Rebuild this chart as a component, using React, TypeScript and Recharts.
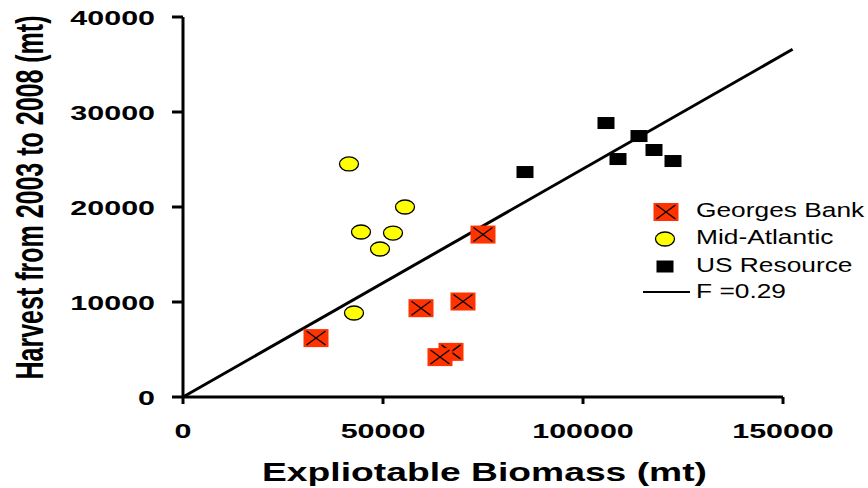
import React from 'react';
import {
  ScatterChart,
  Scatter,
  XAxis,
  YAxis,
  ReferenceLine,
  Legend,
  Label,
} from 'recharts';

// ---- data ----
const georgesX = [33250, 59500, 70000, 75000, 67000, 64250];
const georgesY = [6200, 9350, 10050, 17100, 4750, 4200];

const midAtlX = [41500, 55500, 44500, 52500, 49250, 42750];
const midAtlY = [24530, 20000, 17370, 17260, 15580, 8840];

const usX = [105750, 85500, 114000, 108750, 117750, 122500];
const usY = [28840, 23680, 27470, 25050, 26000, 24840];

const fitLineX = [0, 152400];
const fitLineY = [0, 36600];

const xTicks = [0, 50000, 100000, 150000];
const yTicks = [0, 10000, 20000, 30000, 40000];

const seriesNames = ['Georges Bank', 'Mid-Atlantic', 'US Resource', 'F =0.29'];

const zip = (xs: number[], ys: number[]) => xs.map((x, i) => ({ x, y: ys[i] }));
const georges = zip(georgesX, georgesY);
const midAtl = zip(midAtlX, midAtlY);
const us = zip(usX, usY);
const fitSegment = zip(fitLineX, fitLineY);

const FONT = '"Liberation Sans", Arial, Helvetica, sans-serif';
const SX = 1.45;

// ---- markers ----
const RedMarker = ({ cx, cy }: { cx: number; cy: number }) => (
  <g>
    <rect x={cx - 12.5} y={cy - 9} width={25} height={18} fill="#FF3300" />
    <line x1={cx - 9.5} y1={cy - 7} x2={cx + 9.5} y2={cy + 7} stroke="#000" strokeWidth={1.3} />
    <line x1={cx - 9.5} y1={cy + 7} x2={cx + 9.5} y2={cy - 7} stroke="#000" strokeWidth={1.3} />
  </g>
);

const YellowMarker = ({ cx, cy }: { cx: number; cy: number }) => (
  <ellipse cx={cx} cy={cy} rx={9.5} ry={7} fill="#FFFF00" stroke="#000" strokeWidth={1.3} />
);

const BlackMarker = ({ cx, cy }: { cx: number; cy: number }) => (
  <rect x={cx - 8.5} y={cy - 6} width={17} height={12} fill="#000" />
);

// ---- ticks ----
const YTick = (props: any) => {
  const { y, payload } = props;
  return (
    <text
      transform={`translate(155, ${y + 7.5}) scale(${SX}, 1)`}
      textAnchor="end"
      fontFamily={FONT}
      fontWeight="bold"
      fontSize={21}
      fill="#000"
    >
      {payload.value}
    </text>
  );
};

const XTick = (props: any) => {
  const { x, payload } = props;
  return (
    <text
      transform={`translate(${x}, 438) scale(${SX}, 1)`}
      textAnchor="middle"
      fontFamily={FONT}
      fontWeight="bold"
      fontSize={21}
      fill="#000"
    >
      {payload.value}
    </text>
  );
};

const XTitle = () => (
  <text
    transform={`translate(484.5, 481) scale(1.49, 1)`}
    textAnchor="middle"
    fontFamily={FONT}
    fontWeight="bold"
    fontSize={25}
    fill="#000"
  >
    Expliotable Biomass (mt)
  </text>
);

const YTitle = () => (
  <text
    transform={`translate(43, 197.5) rotate(-90) scale(1, 1.56)`}
    textAnchor="middle"
    fontFamily={FONT}
    fontWeight="bold"
    fontSize={25}
    fill="#000"
  >
    Harvest from 2003 to 2008 (mt)
  </text>
);

// ---- legend ----
const legendText = (label: string, y: number) => (
  <text
    transform={`translate(696, ${y}) scale(1.35, 1)`}
    fontFamily={FONT}
    fontSize={19.5}
    fill="#000"
  >
    {label}
  </text>
);

const LegendContent = () => (
  <svg width={868} height={488} style={{ position: 'absolute', left: 0, top: 0 }}>
    <RedMarker cx={666} cy={212} />
    {legendText(seriesNames[0], 217)}
    <YellowMarker cx={665} cy={239} />
    {legendText(seriesNames[1], 244)}
    <BlackMarker cx={665} cy={266.5} />
    {legendText(seriesNames[2], 272)}
    <line x1={643} y1={292} x2={690} y2={292} stroke="#000" strokeWidth={2.2} />
    {legendText(seriesNames[3], 298)}
  </svg>
);

export default function App() {
  return (
    <div style={{ position: 'absolute', left: 0, top: 0, width: 868, height: 488, background: '#fff' }}>
      <ScatterChart
        width={868}
        height={488}
        margin={{ top: 17, right: 85, left: 123, bottom: 51 }}
      >
        <XAxis
          type="number"
          dataKey="x"
          domain={[0, 150000]}
          ticks={xTicks}
          tick={XTick}
          tickSize={7}
          height={40}
          axisLine={{ stroke: '#000', strokeWidth: 3 }}
          tickLine={{ stroke: '#000', strokeWidth: 3 }}
          allowDataOverflow
        >
          <Label content={XTitle} />
        </XAxis>
        <YAxis
          type="number"
          dataKey="y"
          domain={[0, 40000]}
          ticks={yTicks}
          tick={YTick}
          tickSize={11}
          width={60}
          axisLine={{ stroke: '#000', strokeWidth: 3 }}
          tickLine={{ stroke: '#000', strokeWidth: 3 }}
          allowDataOverflow
        >
          <Label content={YTitle} />
        </YAxis>
        <ReferenceLine
          segment={fitSegment}
          ifOverflow="visible"
          stroke="#000"
          strokeWidth={3}
        />
        <Scatter
          name={seriesNames[2]}
          data={us}
          isAnimationActive={false}
          shape={(p: any) => <BlackMarker cx={p.cx} cy={p.cy} />}
        />
        <Scatter
          name={seriesNames[1]}
          data={midAtl}
          isAnimationActive={false}
          shape={(p: any) => <YellowMarker cx={p.cx} cy={p.cy} />}
        />
        <Scatter
          name={seriesNames[0]}
          data={georges}
          isAnimationActive={false}
          shape={(p: any) => <RedMarker cx={p.cx} cy={p.cy} />}
        />
        <Legend
          content={LegendContent}
          layout="horizontal"
          align="center"
          verticalAlign="middle"
          wrapperStyle={{ position: 'absolute', left: 0, top: 0, width: 868, height: 488, pointerEvents: 'none' }}
        />
      </ScatterChart>
    </div>
  );
}
